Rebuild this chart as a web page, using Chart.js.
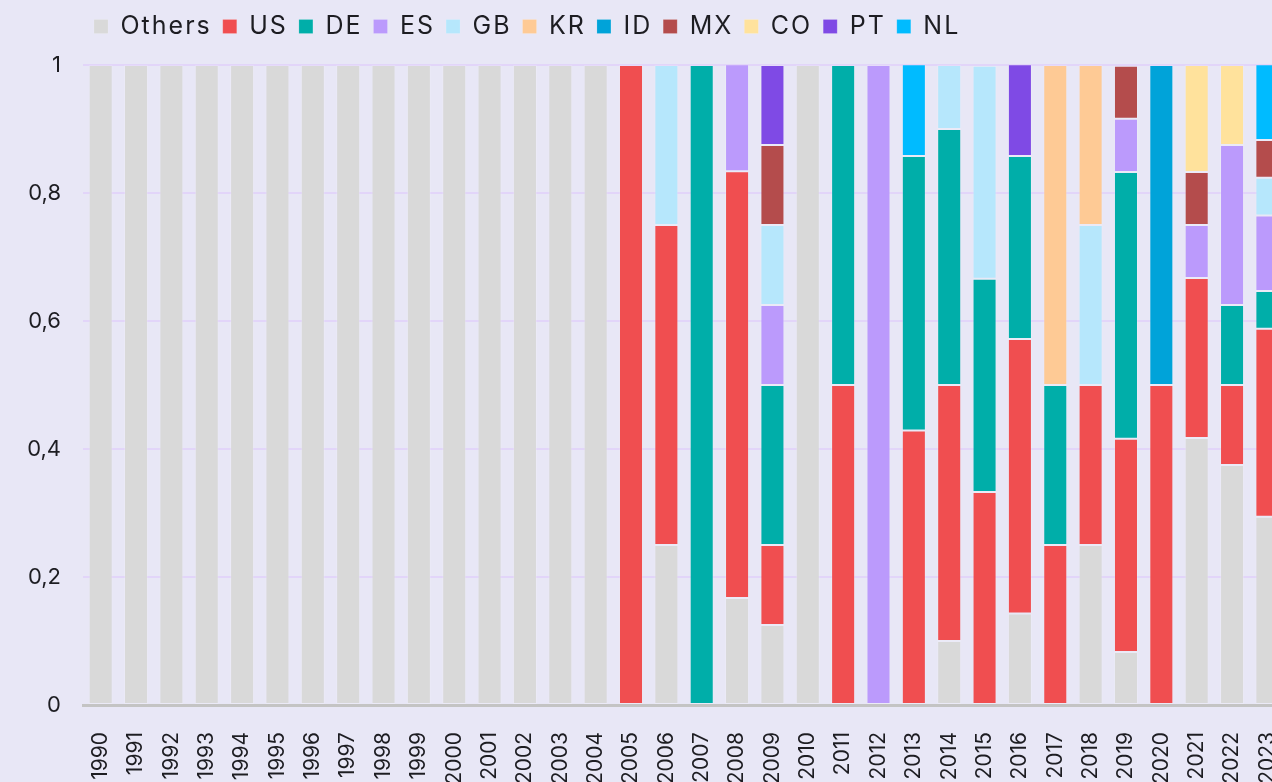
<!DOCTYPE html>
<html>
<head>
<meta charset="utf-8">
<script src="https://cdn.jsdelivr.net/npm/chart.js@4.4.1/dist/chart.umd.min.js"></script>
<style>
    html, body { margin: 0; padding: 0; background: #E8E7F6; overflow: hidden; }
    #box { width: 1312px; height: 782px; position: relative; }
</style>
</head>
<body>
<div id="box"><canvas id="showChart"></canvas></div>
<script>
const _ = null;

const years = ['1990','1991','1992','1993','1994','1995','1996','1997','1998','1999',
    '2000','2001','2002','2003','2004','2005','2006','2007','2008','2009',
    '2010','2011','2012','2013','2014','2015','2016','2017','2018','2019',
    '2020','2021','2022','2023'];

// share of each country per year (1990 .. 2023)
const others = [1,1,1,1,1, 1,1,1,1,1, 1,1,1,1,1,
    _,0.25,_,0.167,0.125, 1,_,_,_,0.1, _,0.143,_,0.25,0.083, _,0.417,0.375,0.294];
const us = [_,_,_,_,_, _,_,_,_,_, _,_,_,_,_,
    1,0.5,_,0.667,0.125, _,0.5,_,0.429,0.4, 0.333,0.429,0.25,0.25,0.333, 0.5,0.25,0.125,0.294];
const de = [_,_,_,_,_, _,_,_,_,_, _,_,_,_,_,
    _,_,1,_,0.25, _,0.5,_,0.429,0.4, 0.333,0.286,0.25,_,0.417, _,_,0.125,0.059];
const es = [_,_,_,_,_, _,_,_,_,_, _,_,_,_,_,
    _,_,_,0.167,0.125, _,_,1,_,_, _,_,_,_,0.083, _,0.083,0.25,0.118];
const gb = [_,_,_,_,_, _,_,_,_,_, _,_,_,_,_,
    _,0.25,_,_,0.125, _,_,_,_,0.1, 0.333,_,_,0.25,_, _,_,_,0.059];
const kr = [_,_,_,_,_, _,_,_,_,_, _,_,_,_,_,
    _,_,_,_,_, _,_,_,_,_, _,_,0.5,0.25,_, _,_,_,_];
const id = [_,_,_,_,_, _,_,_,_,_, _,_,_,_,_,
    _,_,_,_,_, _,_,_,_,_, _,_,_,_,_, 0.5,_,_,_];
const mx = [_,_,_,_,_, _,_,_,_,_, _,_,_,_,_,
    _,_,_,_,0.125, _,_,_,_,_, _,_,_,_,0.083, _,0.083,_,0.059];
const co = [_,_,_,_,_, _,_,_,_,_, _,_,_,_,_,
    _,_,_,_,_, _,_,_,_,_, _,_,_,_,_, _,0.167,0.125,_];
const pt = [_,_,_,_,_, _,_,_,_,_, _,_,_,_,_,
    _,_,_,_,0.125, _,_,_,_,_, _,0.143,_,_,_, _,_,_,_];
const nl = [_,_,_,_,_, _,_,_,_,_, _,_,_,_,_,
    _,_,_,_,_, _,_,_,0.143,_, _,_,_,_,_, _,_,_,0.118];

const yTicks = [0, 0.2, 0.4, 0.6, 0.8, 1];

const series = [
    ['Others', others, '#D9D9D9'],
    ['US', us, '#F04E50'],
    ['DE', de, '#00AEA9'],
    ['ES', es, '#BB9AFC'],
    ['GB', gb, '#B6E7FC'],
    ['KR', kr, '#FECA95'],
    ['ID', id, '#00A3D9'],
    ['MX', mx, '#B44C4C'],
    ['CO', co, '#FFE29C'],
    ['PT', pt, '#7F4AE5'],
    ['NL', nl, '#00BBFF']
];

const font = "Inter, 'Noto Sans', sans-serif";
const ink = '#1d1d22';

const datasets = series.map(([label, data, color]) => ({
    label: label,
    data: data,
    backgroundColor: color,
    borderColor: 'rgba(255,255,255,0.14)',
    borderWidth: 1,
    borderSkipped: false,
    barPercentage: 0.68,
    categoryPercentage: 1
}));

// fixed legend band + a little letter spacing on the legend text
const legendBand = {
    id: 'legendBand',
    beforeInit(chart) {
        const lg = chart.legend;
        const fit = lg.fit, draw = lg.draw;
        lg.fit = function () {
            this.ctx.letterSpacing = '2px';
            fit.call(this);
            this.ctx.letterSpacing = '0px';
            this.height = 62;
        };
        lg.draw = function () {
            this.ctx.letterSpacing = '2px';
            draw.call(this);
            this.ctx.letterSpacing = '0px';
        };
    }
};

new Chart(document.getElementById('showChart'), {
    type: 'bar',
    data: { labels: years, datasets: datasets },
    plugins: [legendBand],
    options: {
        responsive: true,
        maintainAspectRatio: false,
        animation: false,
        layout: { padding: { top: 3 } },
        plugins: {
            tooltip: { enabled: false },
            legend: {
                position: 'top',
                align: 'start',
                fullSize: false,
                labels: {
                    boxWidth: 14,
                    boxHeight: 14,
                    padding: 11,
                    color: ink,
                    font: { family: font, size: 25 }
                }
            }
        },
        scales: {
            x: {
                stacked: true,
                grid: { display: false },
                border: { color: '#C4C4C4', width: 3 },
                ticks: {
                    color: ink,
                    font: { family: font, size: 21 },
                    minRotation: 90,
                    maxRotation: 90,
                    autoSkip: false,
                    padding: 19
                },
                afterFit: (s) => { s.height = 77; }
            },
            y: {
                stacked: true,
                min: 0,
                max: 1,
                z: 1,
                grid: { color: 'rgba(215,180,255,0.35)', lineWidth: 2, drawTicks: false },
                border: { display: false },
                afterBuildTicks: (s) => { s.ticks = yTicks.map(v => ({ value: v })); },
                ticks: {
                    color: ink,
                    font: { family: font, size: 22 },
                    padding: 22,
                    callback: (v) => String(v).replace('.', ',')
                },
                afterFit: (s) => { s.width = 83; }
            }
        }
    }
});
</script>
</body>
</html>
